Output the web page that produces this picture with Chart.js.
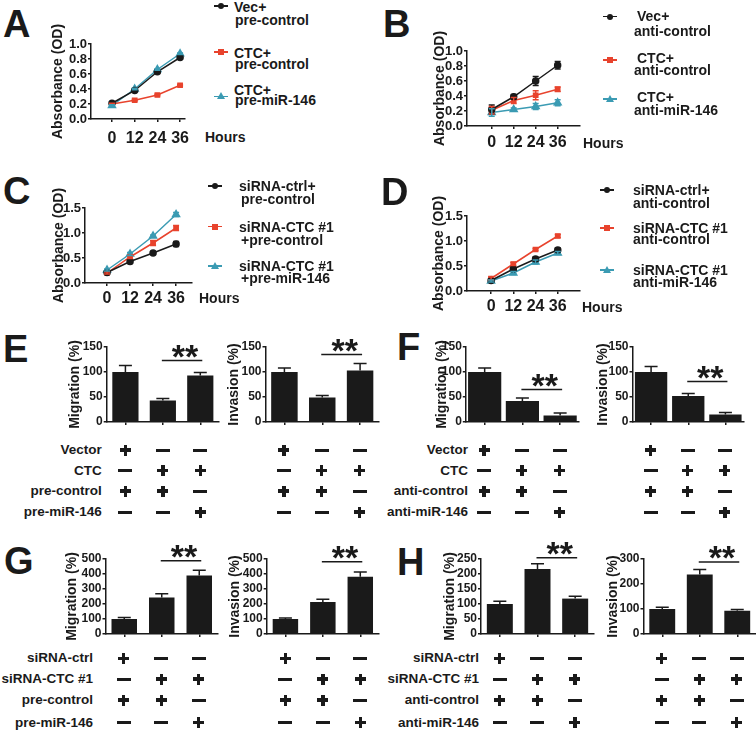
<!DOCTYPE html>
<html>
<head>
<meta charset="utf-8">
<script src="https://cdn.jsdelivr.net/npm/chart.js@4.4.0/dist/chart.umd.min.js"></script>
<style>
html,body{margin:0;padding:0;background:#fff;}
#fig{position:relative;width:756px;height:732px;overflow:hidden;font-family:"Liberation Sans",Arial,Helvetica,sans-serif;font-weight:bold;color:#1a1a1a;}
#fig canvas{position:absolute;}
.t{position:absolute;white-space:nowrap;line-height:1;transform:translateY(-50%);}
.t.r{transform:translate(-100%,-50%);}
</style>
</head>
<body>
<div id="fig"></div>
<script>
// ---- data ----
const hours = [0, 12, 24, 36];

// A: overexpression + pre-miR
const aVecPre    = [0.21, 0.38, 0.63, 0.82];
const aVecPreErr = [0.01, 0.01, 0.01, 0.01];
const aCtcPre    = [0.20, 0.25, 0.32, 0.45];
const aCtcPreErr = [0.01, 0.01, 0.01, 0.01];
const aCtcMiR    = [0.18, 0.40, 0.66, 0.87];
const aCtcMiRErr = [0.01, 0.01, 0.01, 0.01];

// B: overexpression + anti-miR
const bVecAnti    = [0.22, 0.39, 0.60, 0.81];
const bVecAntiErr = [0.06, 0.03, 0.06, 0.05];
const bCtcAnti    = [0.21, 0.34, 0.41, 0.49];
const bCtcAntiErr = [0.05, 0.04, 0.06, 0.03];
const bCtcMiR     = [0.18, 0.22, 0.26, 0.31];
const bCtcMiRErr  = [0.05, 0.02, 0.04, 0.04];

// C: knockdown + pre-miR
const cCtrlPre    = [0.21, 0.43, 0.60, 0.78];
const cCtrlPreErr = [0.02, 0.04, 0.02, 0.05];
const cSiPre      = [0.20, 0.52, 0.80, 1.10];
const cSiPreErr   = [0.02, 0.03, 0.05, 0.05];
const cSiMiR      = [0.26, 0.58, 0.94, 1.37];
const cSiMiRErr   = [0.02, 0.03, 0.02, 0.04];

// D: knockdown + anti-miR
const dCtrlAnti    = [0.21, 0.44, 0.64, 0.82];
const dCtrlAntiErr = [0.02, 0.03, 0.04, 0.04];
const dSiAnti      = [0.25, 0.54, 0.83, 1.10];
const dSiAntiErr   = [0.03, 0.03, 0.02, 0.03];
const dSiMiR       = [0.20, 0.36, 0.58, 0.76];
const dSiMiRErr    = [0.02, 0.03, 0.04, 0.03];

// E-H: migration / invasion (%)
const groups = ['g1', 'g2', 'g3'];
const eMig = [100, 43, 93];   const eMigErr = [13, 4, 6];
const eInv = [100, 49, 103];  const eInvErr = [8, 4, 14];
const fMig = [100, 42, 13];   const fMigErr = [8, 6, 5];
const fInv = [100, 52, 15];   const fInvErr = [11, 5, 4];
const gMig = [100, 243, 390]; const gMigErr = [10, 25, 35];
const gInv = [100, 213, 382]; const gInvErr = [6, 19, 31];
const hMig = [100, 217, 118]; const hMigErr = [9, 17, 8];
const hInv = [100, 238, 93];  const hInvErr = [7, 20, 5];

// treatment tables under the bars
const rowsE = ['Vector', 'CTC', 'pre-control', 'pre-miR-146'];
const rowsF = ['Vector', 'CTC', 'anti-control', 'anti-miR-146'];
const rowsG = ['siRNA-ctrl', 'siRNA-CTC #1', 'pre-control', 'pre-miR-146'];
const rowsH = ['siRNA-ctrl', 'siRNA-CTC #1', 'anti-control', 'anti-miR-146'];
const signs = [[1, 0, 0], [0, 1, 1], [1, 1, 0], [0, 0, 1]];

// ---- drawing ----
const fig = document.getElementById('fig');
const FONT = '"Liberation Sans", Arial, Helvetica, sans-serif';
const INK = '#1a1a1a', RED = '#e8432d', TEAL = '#3b9bb3';

Chart.defaults.font.family = FONT;
Chart.defaults.font.weight = 'bold';
Chart.defaults.color = INK;

function txt(x, y, s, size, cls){
  const d = document.createElement('div');
  d.className = 't' + (cls ? ' ' + cls : '');
  d.style.left = x + 'px'; d.style.top = y + 'px'; d.style.fontSize = size + 'px';
  d.textContent = s;
  fig.appendChild(d);
}
function box(x, y, w, h, color){ // centred at x,y
  const d = document.createElement('div');
  d.style.cssText = `position:absolute;left:${x-w/2}px;top:${y-h/2}px;width:${w}px;height:${h}px;background:${color}`;
  fig.appendChild(d);
}
function legendMark(x, y, color, pt){
  box(x, y, 14, 1.5, color);
  const d = document.createElement('div');
  if (pt === 'triangle')
    d.style.cssText = `position:absolute;left:${x-4}px;top:${y-4.5}px;width:0;height:0;border-left:4px solid transparent;border-right:4px solid transparent;border-bottom:7px solid ${color}`;
  else
    d.style.cssText = `position:absolute;left:${x-3}px;top:${y-3}px;width:6px;height:6px;background:${color};border-radius:${pt==='circle'?'50%':'0'}`;
  fig.appendChild(d);
}

// error bars (up only for bars, both ways for lines)
const errPlugin = {
  id: 'errbars',
  afterDatasetsDraw(chart){
    const ctx = chart.ctx, ys = chart.scales.y;
    chart.data.datasets.forEach((ds, i) => {
      if (!ds.err) return;
      const meta = chart.getDatasetMeta(i);
      ctx.save();
      ctx.strokeStyle = ds.errColor || ds.borderColor;
      ctx.lineWidth = 1.5;
      meta.data.forEach((el, j) => {
        const v = ds.vals[j], x = el.x, cw = ds.capW;
        const hi = ys.getPixelForValue(v + ds.err[j]);
        const lo = ds.errBoth ? ys.getPixelForValue(v - ds.err[j]) : el.y;
        ctx.beginPath();
        ctx.moveTo(x, lo); ctx.lineTo(x, hi);
        ctx.moveTo(x - cw, hi); ctx.lineTo(x + cw, hi);
        if (ds.errBoth){ ctx.moveTo(x - cw, lo); ctx.lineTo(x + cw, lo); }
        ctx.stroke();
      });
      ctx.restore();
    });
  }
};

// significance bar + stars
const sigPlugin = {
  id: 'sig',
  afterDraw(chart, args, o){
    if (!o || o.y == null) return;
    const {x, y} = chart.scales, ctx = chart.ctx;
    const x1 = x.getPixelForValue(o.from) - 1, x2 = x.getPixelForValue(o.to) + 2;
    const py = y.getPixelForValue(o.y);
    ctx.save();
    ctx.strokeStyle = INK; ctx.lineWidth = 1.5;
    ctx.beginPath(); ctx.moveTo(x1, py); ctx.lineTo(x2, py); ctx.stroke();
    ctx.fillStyle = INK;
    ctx.font = `bold 34px ${FONT}`;
    ctx.textAlign = 'center'; ctx.textBaseline = 'alphabetic';
    ctx.fillText('**', (x1 + x2) / 2 + 3, py + 7);
    ctx.restore();
  }
};

// rotated y title, not squeezed into the plot height like the built-in one
const yTitlePlugin = {
  id: 'ytitle',
  afterDraw(chart, args, o){
    if (!o || !o.text) return;
    const {ctx, chartArea} = chart;
    ctx.save();
    ctx.translate(o.x, (chartArea.top + chartArea.bottom) / 2);
    ctx.rotate(-Math.PI / 2);
    ctx.font = `bold 14px ${FONT}`;
    ctx.textAlign = 'center'; ctx.textBaseline = 'middle'; ctx.fillStyle = INK;
    ctx.fillText(o.text, 0, 0);
    ctx.restore();
  }
};

// place a canvas so that the plot box lands where the reference has it
function mkChart(g, cfg, title){
  const yW = g.axisX - (g.titleCX - 9);
  const left = g.axisX - yW, top = g.top - g.padT;
  const w = Math.round(g.right + g.padR - left), h = Math.round(g.zero + g.xH - top);
  const cv = document.createElement('canvas');
  cv.width = w; cv.height = h;
  cv.style.left = left + 'px'; cv.style.top = top + 'px';
  cv.style.width = w + 'px'; cv.style.height = h + 'px';
  fig.appendChild(cv);
  cfg.options.layout = {padding: {top: g.padT, right: g.padR, left: 0, bottom: 0}};
  cfg.options.plugins.ytitle = {text: title, x: g.titleCX - left};
  cfg.options.scales.y.afterFit = s => { s.width = yW; };
  cfg.options.scales.x.afterFit = s => { s.height = g.xH; };
  cfg.plugins.push(yTitlePlugin);
  const ch = new Chart(cv, cfg);
  ch.$left = left; ch.$top = top;
  return ch;
}

const axisLine = {color: INK, width: 1.5};
const tickMarks = {drawOnChartArea: false, tickLength: 3, color: INK, lineWidth: 1.5};

function lineCfg(series, g){
  return {
    type: 'line',
    data: {datasets: series.map(s => ({
      label: s.label.join(' '),
      data: hours.map((h, i) => ({x: h, y: s.vals[i]})),
      vals: s.vals, err: s.err, errBoth: true, capW: 3,
      borderColor: s.color, backgroundColor: s.color, borderWidth: 1.5,
      pointStyle: s.pt, pointRadius: s.pt === 'triangle' ? 4 : 3, tension: 0
    }))},
    options: {
      responsive: false, animation: false, devicePixelRatio: 1,
      plugins: {legend: {display: false}, tooltip: {enabled: false}},
      scales: {
        x: {type: 'linear', min: g.xMin, max: g.xMax,
            afterBuildTicks: s => { s.ticks = hours.map(v => ({value: v})); },
            grid: tickMarks, border: axisLine,
            ticks: {autoSkip: false, maxRotation: 0, padding: g.labPad, font: {size: 16}, callback: v => String(v)}},
        y: {min: 0, max: g.yMax,
            grid: tickMarks, border: axisLine,
            ticks: {autoSkip: false, stepSize: g.yStep, padding: 1, font: {size: 13}, callback: v => v.toFixed(1)}}
      }
    },
    plugins: [errPlugin]
  };
}

function barCfg(vals, err, g){
  return {
    type: 'bar',
    data: {labels: groups, datasets: [{
      data: vals, vals, err, capW: 6.5, errColor: INK,
      backgroundColor: INK, borderWidth: 0, barPercentage: g.bw, categoryPercentage: 1
    }]},
    options: {
      responsive: false, animation: false, devicePixelRatio: 1,
      plugins: {legend: {display: false}, tooltip: {enabled: false}, sig: g.sig},
      scales: {
        x: {grid: {...tickMarks, offset: false}, border: axisLine, ticks: {display: false}},
        y: {min: 0, max: g.yMax, grid: tickMarks, border: axisLine,
            ticks: {autoSkip: false, stepSize: g.yStep, padding: 1, font: {size: 12}}}
      }
    },
    plugins: [errPlugin, sigPlugin]
  };
}

// ---- line panels ----
const LG = {xH: 36, padT: 26, padR: 14};
const lineP = [
  {g: {...LG, axisX: 91,  right: 185, top: 44.3,  zero: 119.3, titleCX: 58,  xMin: -11.1, xMax: 38.6, labPad: 7, yMax: 1.0, yStep: 0.2},
   hours: [205, 137], mx: 221, tx: [234, 235],
   ent: [[6, 6.5, 19.5], [52, 52.5, 63.5], [96.5, 89.5, 100]],
   series: [
     {label: ['Vec+', 'pre-control'], vals: aVecPre, err: aVecPreErr, color: INK, pt: 'circle'},
     {label: ['CTC+', 'pre-control'], vals: aCtcPre, err: aCtcPreErr, color: RED, pt: 'rect'},
     {label: ['CTC+', 'pre-miR-146'], vals: aCtcMiR, err: aCtcMiRErr, color: TEAL, pt: 'triangle'}]},
  {g: {...LG, axisX: 467, right: 580, top: 50.7, zero: 126, titleCX: 440, xMin: -13.5, xMax: 48.2, labPad: 4, yMax: 1.0, yStep: 0.2},
   hours: [583, 143], mx: 610, tx: [637, 634],
   ent: [[16.7, 16, 31], [60, 58.3, 70], [99, 96.7, 110]],
   series: [
     {label: ['Vec+', 'anti-control'], vals: bVecAnti, err: bVecAntiErr, color: INK, pt: 'circle'},
     {label: ['CTC+', 'anti-control'], vals: bCtcAnti, err: bCtcAntiErr, color: RED, pt: 'rect'},
     {label: ['CTC+', 'anti-miR-146'], vals: bCtcMiR, err: bCtcMiRErr, color: TEAL, pt: 'triangle'}]},
  {g: {...LG, axisX: 85, right: 192, top: 207.7, zero: 282.3, titleCX: 59, xMin: -11.5, xMax: 44.3, labPad: 3, yMax: 1.5, yStep: 0.5},
   hours: [199, 298], mx: 215, tx: [239, 241],
   ent: [[186, 186, 199.3], [226.7, 226.7, 240], [266, 266, 278.3]],
   series: [
     {label: ['siRNA-ctrl+', 'pre-control'], vals: cCtrlPre, err: cCtrlPreErr, color: INK, pt: 'circle'},
     {label: ['siRNA-CTC #1', '+pre-control'], vals: cSiPre, err: cSiPreErr, color: RED, pt: 'rect'},
     {label: ['siRNA-CTC #1', '+pre-miR-146'], vals: cSiMiR, err: cSiMiRErr, color: TEAL, pt: 'triangle'}]},
  {g: {...LG, axisX: 467, right: 580, top: 216, zero: 290.7, titleCX: 439, xMin: -13, xMax: 48, labPad: 3, yMax: 1.5, yStep: 0.5},
   hours: [582, 306.7], mx: 606.7, tx: [633, 633],
   ent: [[190, 190, 203], [228, 228.3, 239], [270, 270, 282]],
   series: [
     {label: ['siRNA-ctrl+', 'anti-control'], vals: dCtrlAnti, err: dCtrlAntiErr, color: INK, pt: 'circle'},
     {label: ['siRNA-CTC #1', 'anti-control'], vals: dSiAnti, err: dSiAntiErr, color: RED, pt: 'rect'},
     {label: ['siRNA-CTC #1', 'anti-miR-146'], vals: dSiMiR, err: dSiMiRErr, color: TEAL, pt: 'triangle'}]}
];

lineP.forEach(p => {
  mkChart(p.g, lineCfg(p.series, p.g), 'Absorbance (OD)');
  txt(p.hours[0], p.hours[1], 'Hours', 14);
  p.series.forEach((s, i) => {
    const [my, t1, t2] = p.ent[i];
    legendMark(p.mx, my, s.color, s.pt);
    txt(p.tx[0], t1, s.label[0], 14);
    txt(p.tx[1], t2, s.label[1], 14);
  });
});

// ---- bar panels ----
const BG = {xH: 16, padT: 26, padR: 2};
const EF = {top: 347.3, zero: 422.3, yMax: 150, yStep: 50};
const GH = {top: 559, zero: 634};
const barP = [
  {rows: rowsE, labX: 101.7, rowY: [450, 470.5, 491, 512], charts: [
    {vals: eMig, err: eMigErr, title: 'Migration (%)', g: {...BG, ...EF, axisX: 106.7, right: 219, titleCX: 75, bw: 0.7, sig: {from: 1, to: 2, y: 123}}},
    {vals: eInv, err: eInvErr, title: 'Invasion (%)', g: {...BG, ...EF, axisX: 265, right: 378, titleCX: 233.5, bw: 0.7, sig: {from: 1, to: 2, y: 135}}}]},
  {rows: rowsF, labX: 468, rowY: [450, 470.5, 491, 512], charts: [
    {vals: fMig, err: fMigErr, title: 'Migration (%)', g: {...BG, ...EF, axisX: 465.3, right: 578, titleCX: 441.5, bw: 0.88, sig: {from: 1, to: 2, y: 65}}},
    {vals: fInv, err: fInvErr, title: 'Invasion (%)', g: {...BG, ...EF, axisX: 632, right: 743, titleCX: 602.5, bw: 0.87, sig: {from: 1, to: 2, y: 81}}}]},
  {rows: rowsG, labX: 93, rowY: [658.3, 679, 700, 722.5], charts: [
    {vals: gMig, err: gMigErr, title: 'Migration (%)', g: {...BG, ...GH, axisX: 105, right: 217, titleCX: 71.5, yMax: 500, yStep: 100, bw: 0.68, sig: {from: 1, to: 2, y: 489}}},
    {vals: gInv, err: gInvErr, title: 'Invasion (%)', g: {...BG, ...GH, axisX: 266.7, right: 378.7, titleCX: 235, yMax: 500, yStep: 100, bw: 0.68, sig: {from: 1, to: 2, y: 482}}}]},
  {rows: rowsH, labX: 479, rowY: [658.3, 679, 700, 722.5], charts: [
    {vals: hMig, err: hMigErr, title: 'Migration (%)', g: {...BG, ...GH, axisX: 480.7, right: 593.8, titleCX: 449.7, yMax: 250, yStep: 50, bw: 0.69, sig: {from: 1, to: 2, y: 254}}},
    {vals: hInv, err: hInvErr, title: 'Invasion (%)', g: {...BG, ...GH, axisX: 643, right: 755, titleCX: 612.5, yMax: 300, yStep: 100, bw: 0.69, sig: {from: 1, to: 2, y: 288}}}]}
];

barP.forEach(p => {
  p.rows.forEach((r, i) => txt(p.labX, p.rowY[i], r, 13.5, 'r'));
  p.charts.forEach(c => {
    const ch = mkChart(c.g, barCfg(c.vals, c.err, c.g), c.title);
    groups.forEach((_, j) => {
      const cx = ch.$left + ch.scales.x.getPixelForValue(j);
      signs.forEach((row, i) => {
        const y = p.rowY[i];
        if (row[j]){ box(cx, y, 11, 3.4, INK); box(cx, y, 3.4, 11, INK); }
        else box(cx, y, 14, 3, INK);
      });
    });
  });
});

// ---- panel letters ----
[['A', 3, 23.5], ['B', 383, 23.5], ['C', 3, 190.5], ['D', 381, 191.5],
 ['E', 3, 348.5], ['F', 397, 347], ['G', 4, 561], ['H', 397, 561.5]]
  .forEach(([l, x, y]) => txt(x, y, l, 38));
</script>
</body>
</html>
